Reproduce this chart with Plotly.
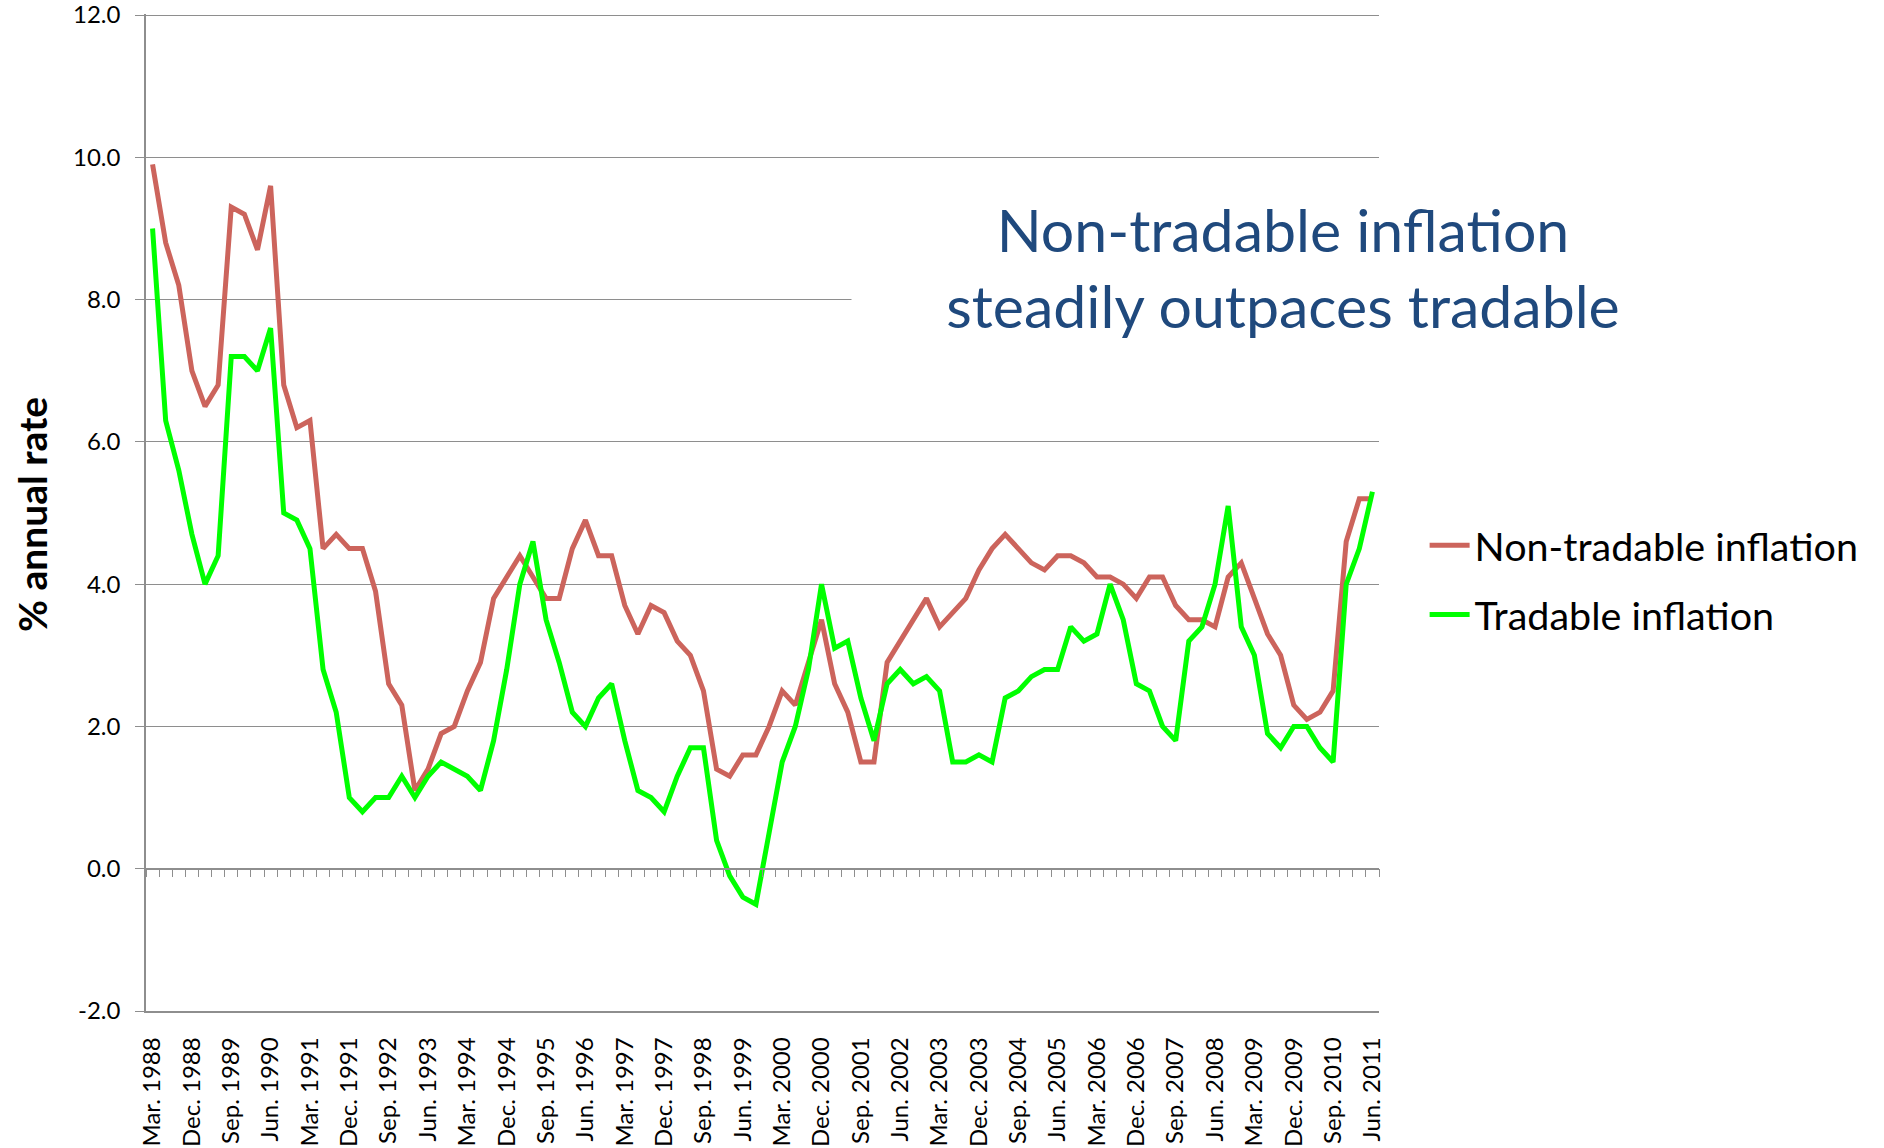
import plotly.graph_objects as go

# ---- data -------------------------------------------------------------
quarters = ["Mar.", "Jun.", "Sep.", "Dec."]
years = list(range(1988, 2012))
categories = [f"{q} {y}" for y in years for q in quarters][:94]   # Mar. 1988 .. Jun. 2011
tick_labels = categories[::3]

y_tick_values = [-2, 0, 2, 4, 6, 8, 10, 12]
y_tick_text = ["-2.0", "0.0", "2.0", "4.0", "6.0", "8.0", "10.0", "12.0"]

non_tradable = [
    9.9, 8.8, 8.2, 7.0, 6.5, 6.8, 9.3, 9.2, 8.7, 9.6,
    6.8, 6.2, 6.3, 4.5, 4.7, 4.5, 4.5, 3.9, 2.6, 2.3,
    1.1, 1.4, 1.9, 2.0, 2.5, 2.9, 3.8, 4.1, 4.4, 4.1,
    3.8, 3.8, 4.5, 4.9, 4.4, 4.4, 3.7, 3.3, 3.7, 3.6,
    3.2, 3.0, 2.5, 1.4, 1.3, 1.6, 1.6, 2.0, 2.5, 2.3,
    2.9, 3.5, 2.6, 2.2, 1.5, 1.5, 2.9, 3.2, 3.5, 3.8,
    3.4, 3.6, 3.8, 4.2, 4.5, 4.7, 4.5, 4.3, 4.2, 4.4,
    4.4, 4.3, 4.1, 4.1, 4.0, 3.8, 4.1, 4.1, 3.7, 3.5,
    3.5, 3.4, 4.1, 4.3, 3.8, 3.3, 3.0, 2.3, 2.1, 2.2,
    2.5, 4.6, 5.2, 5.2,
]

tradable = [
    9.0, 6.3, 5.6, 4.7, 4.0, 4.4, 7.2, 7.2, 7.0, 7.6,
    5.0, 4.9, 4.5, 2.8, 2.2, 1.0, 0.8, 1.0, 1.0, 1.3,
    1.0, 1.3, 1.5, 1.4, 1.3, 1.1, 1.8, 2.8, 4.0, 4.6,
    3.5, 2.9, 2.2, 2.0, 2.4, 2.6, 1.8, 1.1, 1.0, 0.8,
    1.3, 1.7, 1.7, 0.4, -0.1, -0.4, -0.5, 0.5, 1.5, 2.0,
    2.8, 4.0, 3.1, 3.2, 2.4, 1.8, 2.6, 2.8, 2.6, 2.7,
    2.5, 1.5, 1.5, 1.6, 1.5, 2.4, 2.5, 2.7, 2.8, 2.8,
    3.4, 3.2, 3.3, 4.0, 3.5, 2.6, 2.5, 2.0, 1.8, 3.2,
    3.4, 4.0, 5.1, 3.4, 3.0, 1.9, 1.7, 2.0, 2.0, 1.7,
    1.5, 4.0, 4.5, 5.3,
]

series_names = ["Non-tradable inflation", "Tradable inflation"]
series_colors = ["#CC645C", "#00FF00"]
title_text = "Non-tradable inflation<br>steadily outpaces tradable"
y_title = "% annual rate"

# ---- figure -----------------------------------------------------------
GRID = "#8E8E8E"
FONT = "Lato"

fig = go.Figure()
for name, vals, col in zip(series_names, [non_tradable, tradable], series_colors):
    fig.add_trace(go.Scatter(
        x=categories, y=vals, name=name, mode="lines",
        line=dict(color=col, width=5), legendgroup=name,
    ))

# empty helper trace so the zero-line category axis (ticks at boundaries) is drawn
fig.add_trace(go.Scatter(x=[None], y=[None], xaxis="x2", yaxis="y",
                         showlegend=False, hoverinfo="skip", mode="lines"))

fig.update_layout(
    width=1884, height=1148,
    margin=dict(l=146, r=505, t=14, b=137, autoexpand=False),
    paper_bgcolor="white", plot_bgcolor="white",
    showlegend=True,
    legend=dict(
        x=1.037, y=0.4995, xanchor="left", yanchor="top",
        font=dict(family=FONT, size=39.5, color="#000000"),
        bgcolor="rgba(0,0,0,0)", tracegroupgap=15, itemwidth=40,
    ),
    xaxis=dict(
        type="category", categoryorder="array", categoryarray=categories,
        range=[-0.5, 93.5], automargin=False,
        tickmode="array", tickvals=tick_labels, ticktext=tick_labels,
        tickangle=-90, tickfont=dict(family=FONT, size=24, color="#000000"),
        ticks="outside", ticklen=15, tickcolor="rgba(0,0,0,0)",
        showgrid=False, zeroline=False,
        showline=True, linecolor=GRID, linewidth=1.5,
    ),
    xaxis2=dict(
        overlaying="x", anchor="free", position=2 / 14, side="bottom",
        range=[-0.5, 93.5], showgrid=False, zeroline=False, automargin=False,
        tickmode="linear", tick0=-0.5, dtick=1,
        ticks="outside", ticklen=8, tickcolor=GRID, tickwidth=1.3,
        showticklabels=False,
        showline=True, linecolor=GRID, linewidth=1.5,
    ),
    yaxis=dict(
        range=[-2, 12.015], automargin=False,
        tickmode="array", tickvals=y_tick_values, ticktext=y_tick_text,
        tickfont=dict(family=FONT, size=24, color="#000000"),
        ticks="outside", ticklen=9, tickcolor=GRID, tickwidth=1.3,
        showgrid=True, gridcolor=GRID, gridwidth=1.3,
        zeroline=False, showline=True, linecolor=GRID, linewidth=1.5,
        ticklabelstandoff=10, ticklabeloverflow="allow",
    ),
)

# y-axis title
fig.add_annotation(
    text=f"<b>{y_title}</b>", xref="paper", yref="paper",
    x=(32 - 146) / 1233, y=(1011 - 515) / 997, xanchor="center", yanchor="middle",
    textangle=-90, showarrow=False,
    font=dict(family=FONT, size=39, color="#000000"),
)

# chart message box (white background hides part of the 8.0 gridline)
fig.add_annotation(
    text=title_text, xref="paper", yref="paper",
    x=(1283 - 146) / 1233, y=(1011 - 267.5) / 997, xanchor="center", yanchor="middle",
    showarrow=False, align="center", bgcolor="white", width=860, height=165,
    font=dict(family=FONT, size=59, color="#1F497D"),
)

fig.write_html(
    "out.html",
    config={"displayModeBar": False},
    post_script="document.body.style.margin='0';document.body.style.overflow='hidden';",
)
